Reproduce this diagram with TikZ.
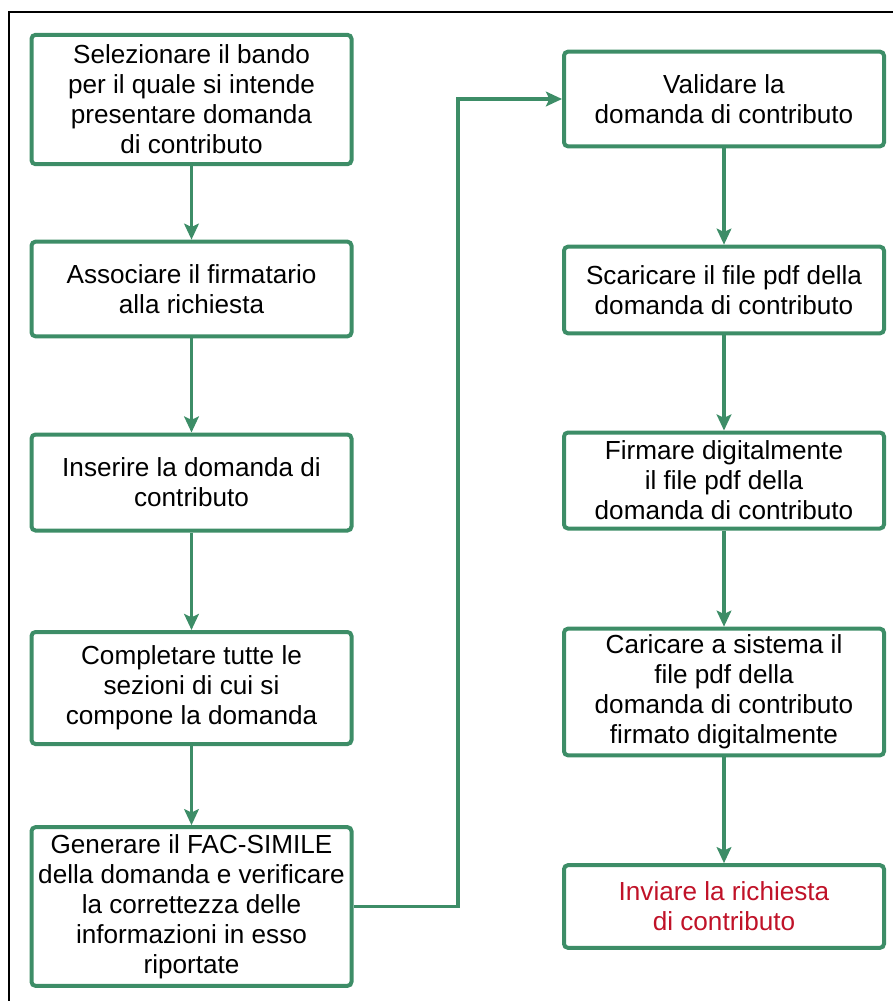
\documentclass[tikz,border=0pt]{standalone}
\usepackage{fontspec}
\setmainfont{Liberation Sans}
\usetikzlibrary{positioning, arrows.meta}
\definecolor{boxgreen}{RGB}{61,141,103}
\definecolor{sendred}{RGB}{192,18,40}

\begin{document}
\begin{tikzpicture}[x=0.75pt, y=-0.75pt, box/.style = {draw=boxgreen, line width=3pt, rounded corners=3pt, minimum width=240pt, align=center, inner sep=2pt, font=\fontsize{19.6}{22.5}\selectfont}, flow/.style = {draw=boxgreen, line width=2.4pt, -{Stealth[length=12pt, width=11pt, inset=2.5pt]}}]
\useasboundingbox (0,0) rectangle (893,1001);
\draw[line width=1.5pt] (9,1001) -- (9,12) -- (893,12);
% left column
\node[box, minimum height=97pt] (1) at (191.5,99.5) {Selezionare il bando\\per il quale si intende\\presentare domanda\\di contributo};
\node[box, minimum height=71pt] (2) at (191.5,289) {Associare il firmatario\\alla richiesta};
\node[box, minimum height=72pt] (3) at (191.5,482.5) {Inserire la domanda di\\contributo};
\node[box, minimum height=84pt] (4) at (191.5,688) {Completare tutte le\\sezioni di cui si\\compone la domanda};
\node[box, minimum height=119pt] (5) at (191.5,906.5) {Generare il FAC-SIMILE\\della domanda e verificare\\la correttezza delle\\informazioni in esso\\riportate};
% right column
\node[box, minimum height=71pt] (6) at (724,99) {Validare la\\domanda di contributo};
\node[box, minimum height=65pt] (7) at (724,290) {Scaricare il file pdf della\\domanda di contributo};
\node[box, minimum height=72pt] (8) at (724,480.5) {Firmare digitalmente\\il file pdf della\\domanda di contributo};
\node[box, minimum height=95pt] (9) at (724,692) {Caricare a sistema il\\file pdf della\\domanda di contributo\\firmato digitalmente};
\node[box, minimum height=62pt, text=sendred] (10) at (724,906.5) {Inviare la richiesta\\di contributo};
\coordinate (turn) at (458,0);
\draw[flow] (1) -- (2);
\draw[flow] (2) -- (3);
\draw[flow] (3) -- (4);
\draw[flow] (4) -- (5);
\draw[flow] (5.east) -| (turn |- 6.west) -- (6.west);
\draw[flow] (6) -- (7);
\draw[flow] (7) -- (8);
\draw[flow] (8) -- (9);
\draw[flow] (9) -- (10);
\end{tikzpicture}
\end{document}
